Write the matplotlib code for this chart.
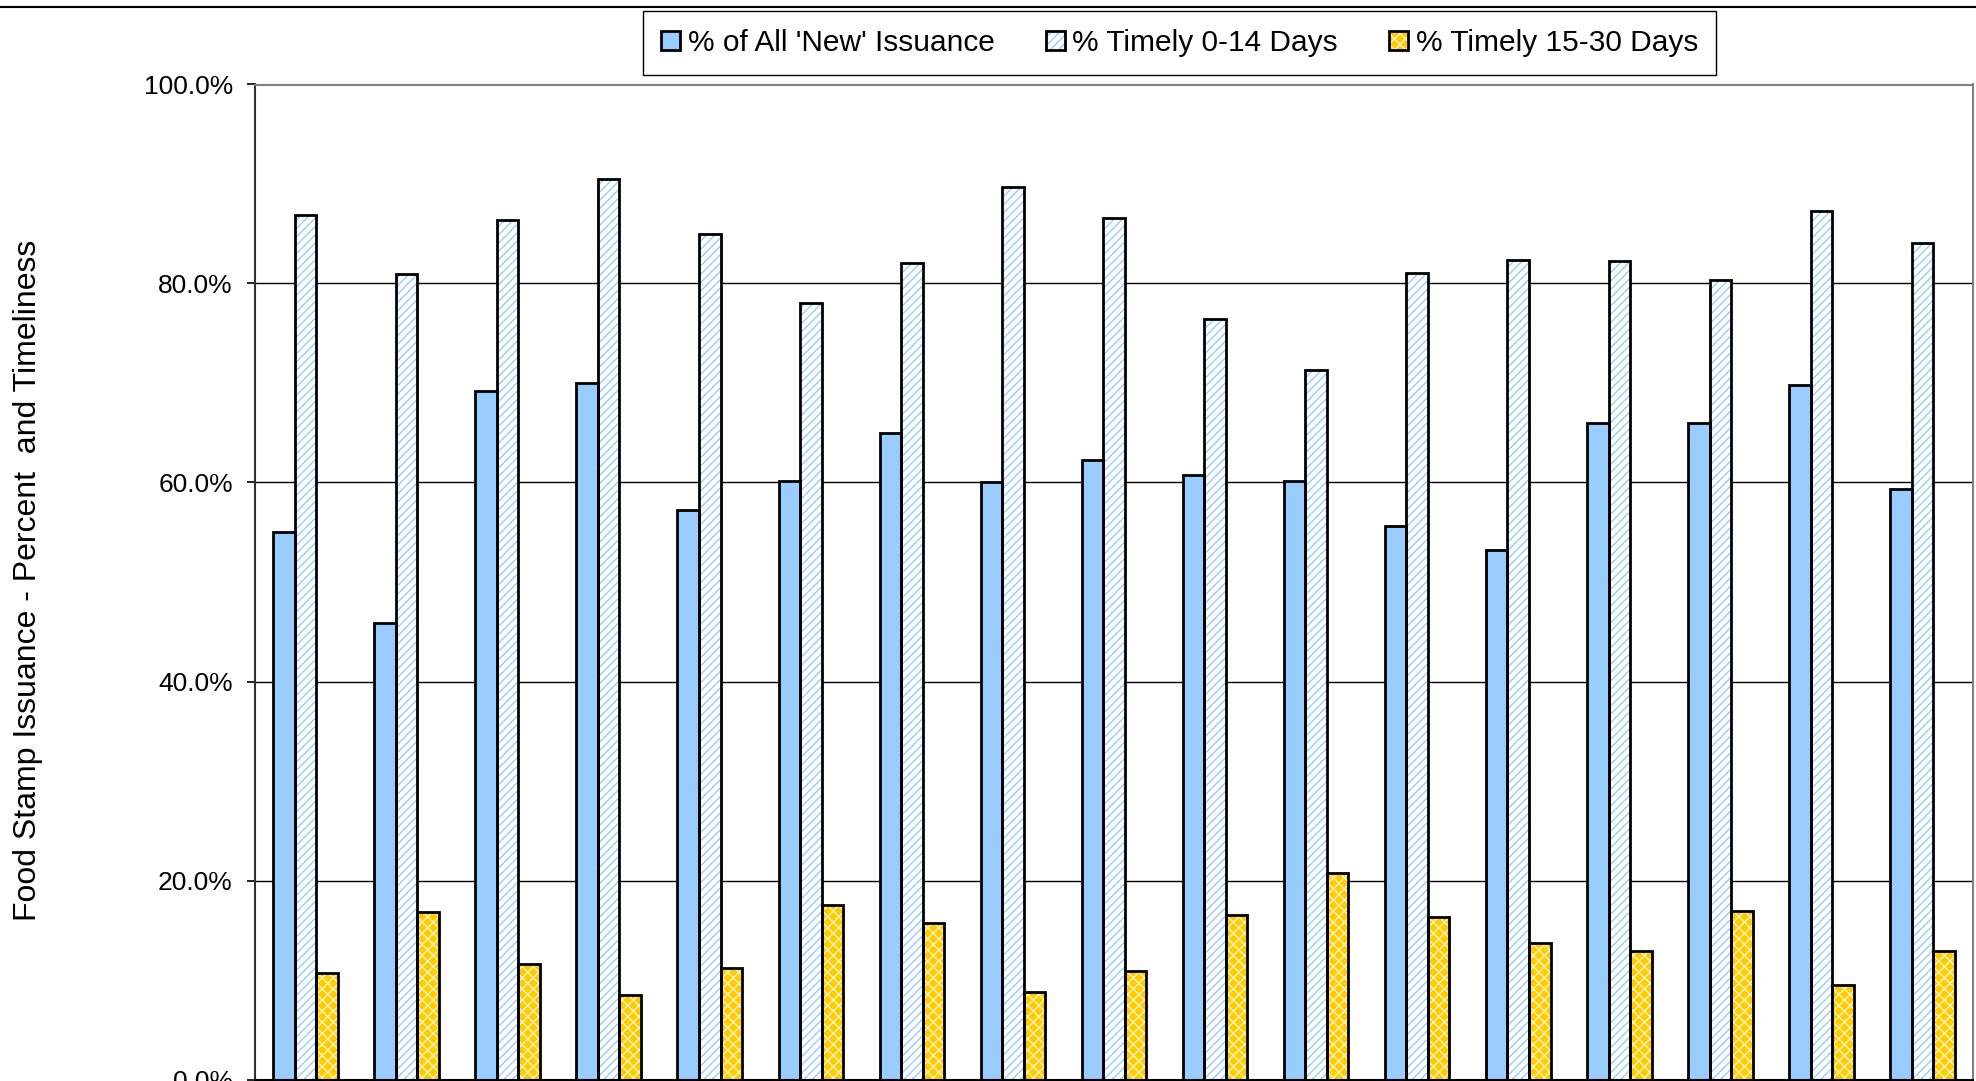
import matplotlib.pyplot as plt
import numpy as np
from matplotlib.patches import Patch
from matplotlib.lines import Line2D
from matplotlib.ticker import FuncFormatter

plt.rcParams['font.family'] = ['Liberation Sans', 'DejaVu Sans']
plt.rcParams['hatch.linewidth'] = 1.0

# values (%)
new_issuance = [55.0, 45.9, 69.2, 70.0, 57.2, 60.2, 65.0, 60.1, 62.3,
                60.8, 60.2, 55.6, 53.2, 66.0, 66.0, 69.8, 59.3]
timely_0_14 = [86.9, 81.0, 86.4, 90.5, 85.0, 78.0, 82.1, 89.7, 86.6,
               76.4, 71.3, 81.1, 82.4, 82.3, 80.4, 87.3, 84.1]
timely_15_30 = [10.7, 16.8, 11.6, 8.5, 11.2, 17.5, 15.7, 8.8, 10.9,
                16.5, 20.8, 16.3, 13.7, 12.9, 16.9, 9.5, 12.9]
labels = ["% of All 'New' Issuance", "% Timely 0-14 Days", "% Timely 15-30 Days"]

blue = '#99CCFF'
yellow = '#FFCC00'

fig = plt.figure(figsize=(19.76, 10.81), dpi=100)
ax = fig.add_axes([255 / 1976, 1.5 / 1081, 1718 / 1976, (1080 - 85) / 1081])

x = np.arange(len(new_issuance))
w = 0.213

# fills first (hatch colour = edgecolor), then black outlines on top
ax.bar(x - w, new_issuance, w, color=blue, linewidth=0, zorder=2)
ax.bar(x, timely_0_14, w, facecolor='white', edgecolor=blue, hatch='////', linewidth=0, zorder=2)
ax.bar(x + w, timely_15_30, w, facecolor=yellow, edgecolor='#FFF3C0', hatch='xxx', linewidth=0, zorder=2)
for off, vals in zip([-w, 0, w], [new_issuance, timely_0_14, timely_15_30]):
    ax.bar(x + off, vals, w, facecolor='none', edgecolor='black', linewidth=2.0, zorder=3)

ax.set_xlim(-0.5, len(x) - 0.5)
ax.set_ylim(0, 100)
ax.set_yticks(np.arange(0, 101, 20))
ax.yaxis.set_major_formatter(FuncFormatter(lambda v, p: '%.1f%%' % v))
ax.set_xticks(np.arange(-0.5, len(x), 1))
ax.set_xticklabels([])
ax.tick_params(axis='y', labelsize=19, length=6, width=1.2, pad=10)
ax.tick_params(axis='x', length=6, width=1.2)
ax.grid(True, axis='y', color='black', linewidth=1.0, zorder=1)
ax.set_axisbelow(True)

ax.spines['left'].set_color('#303030')
ax.spines['bottom'].set_color('black')
ax.spines['top'].set_color('#808080')
ax.spines['right'].set_color('#808080')
for s in ax.spines.values():
    s.set_linewidth(1.5)

fig.text(28 / 1976, 1 - 580 / 1081, 'Food Stamp Issuance - Percent  and Timeliness',
         rotation=90, ha='center', va='center', fontsize=23)

# line across the top of the figure
fig.add_artist(Line2D([0, 1], [1 - 7 / 1081, 1 - 7 / 1081], color='black', linewidth=1.5))

handles = [
    (Patch(facecolor=blue, linewidth=0), Patch(facecolor='none', edgecolor='black', linewidth=2.0)),
    (Patch(facecolor='white', edgecolor=blue, hatch='////', linewidth=0),
     Patch(facecolor='none', edgecolor='black', linewidth=2.0)),
    (Patch(facecolor=yellow, edgecolor='#FFF3C0', hatch='xxx', linewidth=0),
     Patch(facecolor='none', edgecolor='black', linewidth=2.0)),
]
leg = fig.legend(handles, labels, ncol=3, loc='center', bbox_to_anchor=(1179.5 / 1976, 1 - 43 / 1081),
                 fontsize=21.5, frameon=True, fancybox=False, edgecolor='black', framealpha=1,
                 handlelength=0.65, handleheight=0.65, handletextpad=0.25, columnspacing=1.7,
                 borderpad=0.6, borderaxespad=0)
leg.get_frame().set_linewidth(1.0)

fig.savefig('out.png', dpi=100)
